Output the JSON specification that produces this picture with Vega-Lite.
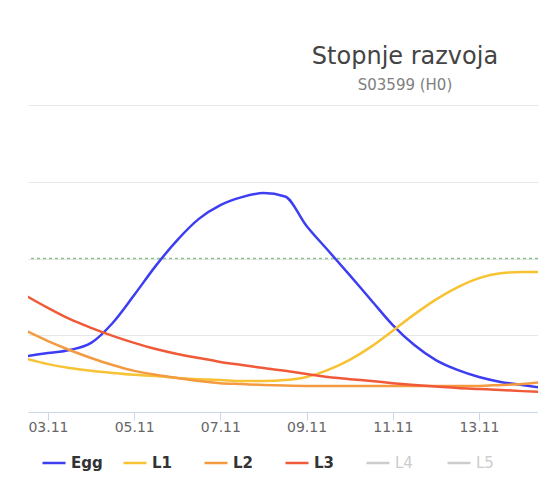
{
  "$schema": "https://vega.github.io/schema/vega-lite/v6.json",
  "autosize": "none",
  "width": 510,
  "height": 307,
  "padding": {"left": 28, "top": 105, "right": 0, "bottom": 80},
  "background": "#ffffff",
  "config": {
    "view": {"stroke": null},
    "font": "DejaVu Sans",
    "axisY": {"grid": true, "gridColor": "#e6e6e6", "gridWidth": 1, "labels": false, "ticks": false, "domain": false, "title": null}
  },
  "title": {
    "text": "Stopnje razvoja",
    "subtitle": "S03599 (H0)",
    "anchor": "middle",
    "dx": 122,
    "fontSize": 24,
    "font": "DejaVu Sans",
    "fontWeight": "normal",
    "color": "#444444",
    "subtitleFont": "DejaVu Sans",
    "subtitleFontSize": 15,
    "subtitleColor": "#808080",
    "subtitlePadding": 9,
    "offset": 12
  },
  "layer": [
    {
      "data": {"values": [{"v": 50}]},
      "mark": {"type": "rule", "strokeDash": [3, 3], "color": "#8cc08c", "strokeWidth": 1.5},
      "encoding": {
        "y": {
          "field": "v",
          "type": "quantitative",
          "scale": {"domain": [0, 100]},
          "axis": {"values": [0, 25, 50, 75, 100], "grid": true, "labels": false, "ticks": false, "domain": false, "title": null}
        }
      }
    },
    {
      "data": {
        "values": [
          {"t": "2023-11-02T12:00", "Egg": 18.2, "L1": 17.3, "L2": 26.4, "L3": 37.8},
          {"t": "2023-11-03T00:00", "Egg": 19.2, "L1": 15.6, "L2": 23.1, "L3": 33.9},
          {"t": "2023-11-03T12:00", "Egg": 20.2, "L1": 14.3, "L2": 20.2, "L3": 30.3},
          {"t": "2023-11-04T00:00", "Egg": 22.5, "L1": 13.4, "L2": 17.6, "L3": 27.4},
          {"t": "2023-11-04T12:00", "Egg": 29.0, "L1": 12.7, "L2": 15.3, "L3": 24.8},
          {"t": "2023-11-05T00:00", "Egg": 38.1, "L1": 12.1, "L2": 13.4, "L3": 22.5},
          {"t": "2023-11-05T12:00", "Egg": 47.6, "L1": 11.7, "L2": 12.1, "L3": 20.5},
          {"t": "2023-11-06T00:00", "Egg": 56.0, "L1": 11.1, "L2": 11.1, "L3": 18.9},
          {"t": "2023-11-06T12:00", "Egg": 62.9, "L1": 10.7, "L2": 10.1, "L3": 17.6},
          {"t": "2023-11-07T00:00", "Egg": 67.4, "L1": 10.4, "L2": 9.4, "L3": 16.3},
          {"t": "2023-11-07T12:00", "Egg": 70.0, "L1": 10.1, "L2": 9.1, "L3": 15.3},
          {"t": "2023-11-08T00:00", "Egg": 71.3, "L1": 10.1, "L2": 8.8, "L3": 14.3},
          {"t": "2023-11-08T12:00", "Egg": 70.2, "L1": 10.4, "L2": 8.6, "L3": 13.4},
          {"t": "2023-11-09T00:00", "Egg": 60.6, "L1": 11.4, "L2": 8.5, "L3": 12.4},
          {"t": "2023-11-09T12:00", "Egg": 52.6, "L1": 13.7, "L2": 8.5, "L3": 11.4},
          {"t": "2023-11-10T00:00", "Egg": 44.6, "L1": 17.0, "L2": 8.5, "L3": 10.7},
          {"t": "2023-11-10T12:00", "Egg": 36.4, "L1": 21.3, "L2": 8.5, "L3": 10.1},
          {"t": "2023-11-11T00:00", "Egg": 28.3, "L1": 26.5, "L2": 8.5, "L3": 9.4},
          {"t": "2023-11-11T12:00", "Egg": 21.8, "L1": 31.8, "L2": 8.5, "L3": 8.8},
          {"t": "2023-11-12T00:00", "Egg": 16.9, "L1": 36.6, "L2": 8.5, "L3": 8.3},
          {"t": "2023-11-12T12:00", "Egg": 13.7, "L1": 40.6, "L2": 8.5, "L3": 7.8},
          {"t": "2023-11-13T00:00", "Egg": 11.4, "L1": 43.6, "L2": 8.5, "L3": 7.5},
          {"t": "2023-11-13T12:00", "Egg": 9.8, "L1": 45.2, "L2": 8.8, "L3": 7.2},
          {"t": "2023-11-14T00:00", "Egg": 8.8, "L1": 45.6, "L2": 9.1, "L3": 6.8},
          {"t": "2023-11-14T12:00", "Egg": 7.8, "L1": 45.6, "L2": 9.8, "L3": 6.5}
        ]
      },
      "transform": [{"fold": ["Egg", "L1", "L2", "L3"], "as": ["s", "v"]}],
      "mark": {"type": "line", "interpolate": "monotone", "strokeWidth": 2.5, "clip": true},
      "encoding": {
        "x": {
          "field": "t",
          "type": "temporal",
          "scale": {"domain": ["2023-11-02T12:52", "2023-11-14T08:52"]},
          "axis": {
            "title": null,
            "grid": false,
            "format": "%d.%m",
            "values": [
              {"year": 2023, "month": 11, "date": 3},
              {"year": 2023, "month": 11, "date": 5},
              {"year": 2023, "month": 11, "date": 7},
              {"year": 2023, "month": 11, "date": 9},
              {"year": 2023, "month": 11, "date": 11},
              {"year": 2023, "month": 11, "date": 13}
            ],
            "domainColor": "#ccd6eb",
            "tickColor": "#ccd6eb",
            "tickSize": 8,
            "labelColor": "#666666",
            "labelFontSize": 14,
            "labelFont": "DejaVu Sans",
            "labelPadding": 0
          }
        },
        "y": {
          "field": "v",
          "type": "quantitative",
          "scale": {"domain": [0, 100]},
          "axis": {"values": [0, 25, 50, 75, 100], "grid": true, "labels": false, "ticks": false, "domain": false, "title": null}
        },
        "color": {
          "field": "s",
          "type": "nominal",
          "scale": {
            "domain": ["Egg", "L1", "L2", "L3", "L4", "L5"],
            "range": ["#3d3df2", "#f7c233", "#f49a40", "#f05a38", "#cccccc", "#cccccc"]
          },
          "legend": {
            "title": null,
            "orient": "none",
            "direction": "horizontal",
            "columns": 6,
            "gridAlign": "all",
            "legendX": 13,
            "legendY": 345,
            "symbolType": "stroke",
            "symbolSize": 529,
            "symbolStrokeWidth": 2.5,
            "labelOffset": 4,
            "columnPadding": 15,
            "labelFont": "DejaVu Sans",
            "labelFontSize": 15,
            "labelFontWeight": "bold",
            "values": ["Egg", "L1", "L2", "L3", "L4", "L5"],
            "encode": {
              "labels": {
                "update": {
                  "fill": {"signal": "datum.value == 'L4' || datum.value == 'L5' ? '#cccccc' : '#333333'"},
                  "fontWeight": {"signal": "datum.value == 'L4' || datum.value == 'L5' ? 'normal' : 'bold'"}
                }
              }
            }
          }
        }
      }
    }
  ]
}
